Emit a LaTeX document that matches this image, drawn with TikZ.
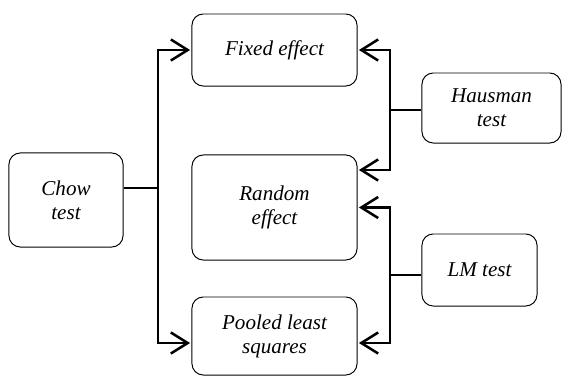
\documentclass[tikz,border=0pt]{standalone}
\usepackage{fontspec}
\setmainfont{Liberation Serif}
\usetikzlibrary{arrows.meta}
\begin{document}
\begin{tikzpicture}[x=0.025cm, y=-0.025cm,
    box/.style={draw, line width=0.7pt, rounded corners=8pt, align=center,
      inner sep=2pt, font=\fontsize{15}{17}\selectfont\itshape},
    link/.style={line width=2pt},
    arr/.style={link, -{Straight Barb[length=12pt, width=15pt, line width=1.8pt]}, shorten >=1pt}]
  \useasboundingbox (0,0) rectangle (562,376);
  \node [box, minimum width=2.85cm, minimum height=2.35cm] (chow) at (66,200) {Chow\\test};
  \node [box, minimum width=4.125cm, minimum height=1.8cm] (fixed) at (274.5,50) {Fixed effect};
  \node [box, minimum width=4.125cm, minimum height=2.625cm] (random) at (274.5,207.5) {Random\\effect};
  \node [box, minimum width=4.125cm, minimum height=1.95cm] (pooled) at (274.5,336) {Pooled least\\squares};
  \node [box, minimum width=3.475cm, minimum height=1.75cm] (hausman) at (491.5,108) {Hausman\\test};
  \node [box, minimum width=2.875cm, minimum height=1.8cm] (lm) at (479.5,270) {LM test};

  \coordinate (cj) at (158,188);
  \coordinate (hj) at (390,110);
  \coordinate (lj) at (390,275);
  \draw [link] (chow.east |- cj) -- (cj);
  \draw [arr] (cj) |- (fixed.west);
  \draw [arr] (cj) |- (pooled.west |- 0,343);
  \draw [link] (hausman.west |- hj) -- (hj);
  \draw [arr] (hj) |- (fixed.east);
  \draw [arr] (hj) |- (random.east |- 0,170);
  \draw [link] (lm.west |- lj) -- (lj);
  \draw [arr] (lj) |- (random.east);
  \draw [arr] (lj) |- (pooled.east |- 0,343);
\end{tikzpicture}
\end{document}
